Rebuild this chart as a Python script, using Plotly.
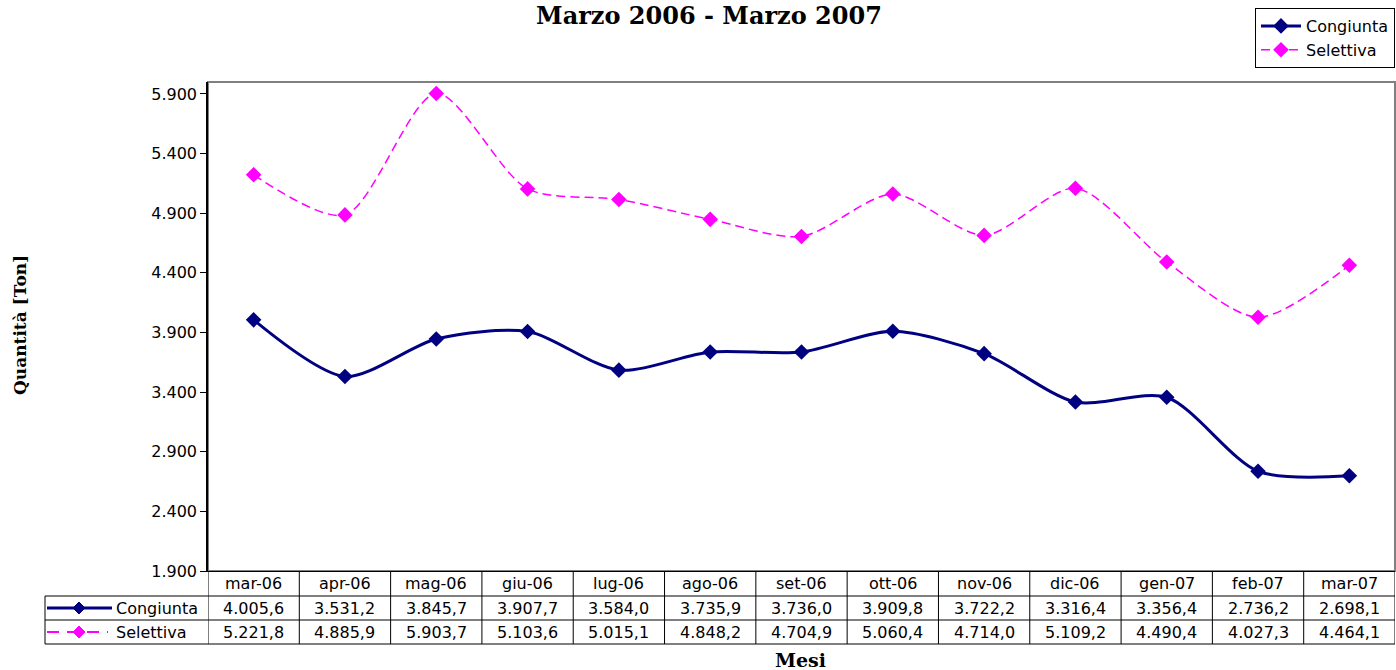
import plotly.graph_objects as go

months = ["mar-06", "apr-06", "mag-06", "giu-06", "lug-06", "ago-06", "set-06",
          "ott-06", "nov-06", "dic-06", "gen-07", "feb-07", "mar-07"]
congiunta = [4005.6, 3531.2, 3845.7, 3907.7, 3584.0, 3735.9, 3736.0,
             3909.8, 3722.2, 3316.4, 3356.4, 2736.2, 2698.1]
selettiva = [5221.8, 4885.9, 5903.7, 5103.6, 5015.1, 4848.2, 4704.9,
             5060.4, 4714.0, 5109.2, 4490.4, 4027.3, 4464.1]
y_ticks = [1900, 2400, 2900, 3400, 3900, 4400, 4900, 5400, 5900]

NAVY = "#000080"
MAG = "#FF00FF"
SANS = "DejaVu Sans"
SERIF = "DejaVu Serif"
FS = 16

W, H = 1396, 670
L, R, T, B = 208, 1, 82, 99
PW, PH = W - L - R, H - T - B


def px_x(p):
    return (p - L) / PW


def px_y(p):
    return (H - B - p) / PH


def it(v):
    s = f"{v:,.1f}"
    return s.replace(",", "X").replace(".", ",").replace("X", ".")


fig = go.Figure()
fig.add_trace(go.Scatter(
    x=months, y=congiunta, name="Congiunta", mode="lines+markers",
    line=dict(color=NAVY, width=3, shape="spline", smoothing=0.8),
    marker=dict(symbol="diamond", size=12, color=NAVY)))
fig.add_trace(go.Scatter(
    x=months, y=selettiva, name="Selettiva", mode="lines+markers",
    line=dict(color=MAG, width=1.5, shape="spline", smoothing=0.8, dash="9px,5px"),
    marker=dict(symbol="diamond", size=12, color=MAG)))

shapes = []
ann = []
y_hdr_top, y_r1, y_r2, y_bot = 571, 596, 620, 644
tbl_left = px_x(45)
n = len(months)
lc = dict(color="black", width=1)
for yy in (y_r1, y_r2, y_bot):
    shapes.append(dict(type="line", xref="paper", yref="paper", x0=tbl_left, x1=1,
                       y0=px_y(yy), y1=px_y(yy), line=lc))
for i in range(n + 1):
    shapes.append(dict(type="line", xref="x", yref="paper", x0=i - 0.5, x1=i - 0.5,
                       y0=px_y(y_hdr_top), y1=px_y(y_bot), line=lc))
shapes.append(dict(type="line", xref="paper", yref="paper", x0=tbl_left, x1=tbl_left,
                   y0=px_y(y_r1), y1=px_y(y_bot), line=lc))

cy_h = px_y((y_hdr_top + y_r1) / 2)
cy_1 = px_y((y_r1 + y_r2) / 2)
cy_2 = px_y((y_r2 + y_bot) / 2)
tf = dict(family=SANS, size=FS, color="black")
for i, m in enumerate(months):
    for yy, txt in ((cy_h, m), (cy_1, it(congiunta[i])), (cy_2, it(selettiva[i]))):
        ann.append(dict(x=m, xref="x", y=yy, yref="paper", text=txt, showarrow=False,
                        xanchor="center", yanchor="middle", font=tf))

# table legend keys
shapes.append(dict(type="line", xref="paper", yref="paper", x0=px_x(47), x1=px_x(112),
                   y0=cy_1, y1=cy_1, line=dict(color=NAVY, width=3)))
shapes.append(dict(type="line", xref="paper", yref="paper", x0=px_x(47), x1=px_x(108),
                   y0=cy_2, y1=cy_2, line=dict(color=MAG, width=2, dash="12px,8px")))
for cy, col in ((cy_1, NAVY), (cy_2, MAG)):
    cx = px_x(79)
    dx, dy = 6 / PW, 6 / PH
    path = f"M {cx - dx} {cy} L {cx} {cy + dy} L {cx + dx} {cy} L {cx} {cy - dy} Z"
    shapes.append(dict(type="path", xref="paper", yref="paper", path=path,
                       fillcolor=col, line=dict(color=col, width=1)))
for cy, name in ((cy_1, "Congiunta"), (cy_2, "Selettiva")):
    ann.append(dict(x=px_x(114), xref="paper", y=cy, yref="paper", text=name,
                    xanchor="left", yanchor="middle", showarrow=False, font=tf))

# axis titles
ann.append(dict(x=px_x(800), xref="paper", y=px_y(660), yref="paper", text="<b>Mesi</b>",
                xanchor="center", yanchor="middle",
                showarrow=False, font=dict(family=SERIF, size=19, color="black")))
ann.append(dict(x=px_x(20), xref="paper", y=px_y(325), yref="paper",
                text="<b>Quantità [Ton]</b>", textangle=-90, showarrow=False,
                xanchor="center", yanchor="middle",
                font=dict(family=SERIF, size=17, color="black")))

# plot area border
shapes.append(dict(type="rect", xref="paper", yref="paper", x0=0, x1=1, y0=0, y1=1,
                   line=dict(color="#808080", width=2), layer="below"))

fig.update_layout(
    width=W, height=H, margin=dict(l=L, r=R, t=T, b=B, autoexpand=False),
    paper_bgcolor="white", plot_bgcolor="white",
    separators=",.",
    title=dict(text="<b>Marzo 2006 - Marzo 2007</b>", x=709 / W, xanchor="center",
               xref="container", y=1 - 16 / H, yanchor="middle",
               yref="container", font=dict(family=SERIF, size=24, color="black")),
    showlegend=True,
    legend=dict(x=1, xanchor="right", y=px_y(8), yanchor="top",
                bordercolor="black", borderwidth=1, bgcolor="white",
                font=dict(family=SANS, size=FS, color="black"),
                tracegroupgap=0, itemwidth=40),
    xaxis=dict(type="category", range=[-0.5, n - 0.5], showticklabels=False,
               ticks="", showgrid=False, zeroline=False, showline=True,
               linecolor="black", linewidth=1),
    yaxis=dict(range=[1900, 6000], tickvals=y_ticks, tickformat=",d",
               ticks="outside", ticklen=6, tickcolor="black", showgrid=False,
               zeroline=False, showline=True, linecolor="black", linewidth=1.5,
               tickfont=dict(family=SANS, size=FS, color="black")),
    shapes=shapes, annotations=ann,
)

fig.write_html("out.html", config={"displayModeBar": False},
               post_script="document.body.style.margin='0';document.body.style.overflow='hidden';")
